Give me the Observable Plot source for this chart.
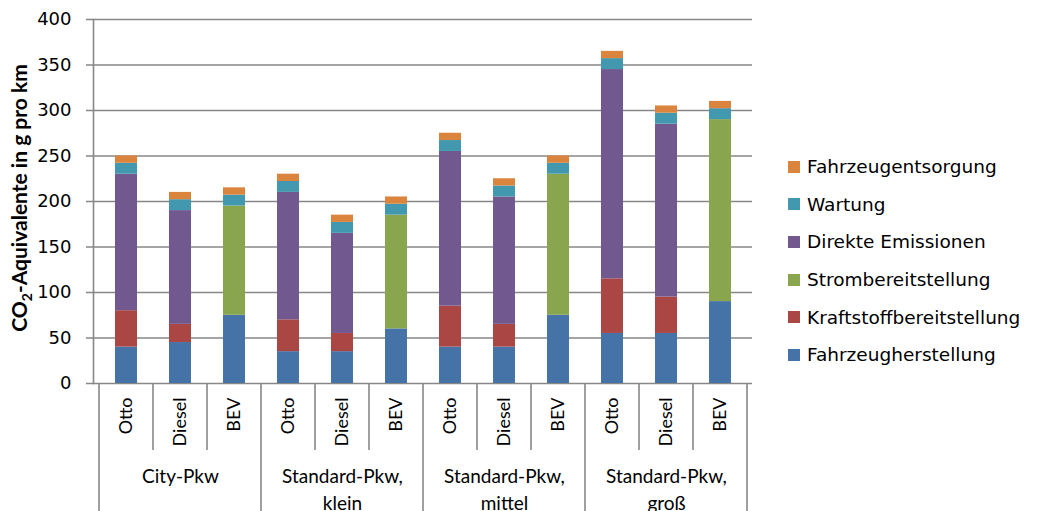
<!DOCTYPE html>
<html><head><meta charset="utf-8">
<script src="https://cdn.jsdelivr.net/npm/d3@7"></script>
<script src="https://cdn.jsdelivr.net/npm/@observablehq/plot@0.6"></script>
<style>
body{margin:0;background:#fff;}
#wrap{position:relative;width:1040px;height:511px;overflow:hidden;}
#legend{position:absolute;left:788px;top:148px;font-family:"DejaVu Sans",sans-serif;font-size:18.5px;color:#000;}
#legend .row{height:37.6px;display:flex;align-items:center;white-space:nowrap;}
#legend .sw{width:12px;height:12px;margin-right:7px;flex:none;}
</style></head><body><div id="wrap"><div id="legend"></div></div>
<script>
const groups = ["City-Pkw", "Standard-Pkw,\nklein", "Standard-Pkw,\nmittel", "Standard-Pkw,\ngroß"];
const fuels = ["Otto", "Diesel", "BEV"];
const components = ["Fahrzeugherstellung", "Kraftstoffbereitstellung", "Strombereitstellung", "Direkte Emissionen", "Wartung", "Fahrzeugentsorgung"];
const colors = ["#4572A7", "#AA4643", "#89A54E", "#71588F", "#4198AF", "#DB843D"];
// values per bar, order: City(Otto,Diesel,BEV), klein(...), mittel(...), groß(...)
const fahrzeugherstellung      = [40, 45, 75, 35, 35, 60, 40, 40, 75, 55, 55, 90];
const kraftstoffbereitstellung = [40, 20,  0, 35, 20,  0, 45, 25,  0, 60, 40,  0];
const strombereitstellung      = [ 0,  0,120,  0,  0,125,  0,  0,155,  0,  0,200];
const direkteEmissionen        = [150,125, 0,140,110,  0,170,140,  0,230,190,  0];
const wartung                  = [12, 12, 12, 12, 12, 12, 12, 12, 12, 12, 12, 12];
const fahrzeugentsorgung       = [ 8,  8,  8,  8,  8,  8,  8,  8,  8,  8,  8,  8];
const yTicks = [0, 50, 100, 150, 200, 250, 300, 350, 400];
const yLabel = ["CO", "2", "-Aquivalente in g pro km"];

const series = [fahrzeugherstellung, kraftstoffbereitstellung, strombereitstellung, direkteEmissionen, wartung, fahrzeugentsorgung];
const keys = [];
groups.forEach(g => fuels.forEach(f => keys.push(g + "|" + f)));
const rows = [];
keys.forEach((k, i) => components.forEach((c, j) => {
  if (series[j][i] > 0) rows.push({key: k, component: c, value: series[j][i]});
}));

const gray = "#878787";
const chart = Plot.plot({
  width: 1040, height: 511,
  marginLeft: 93, marginRight: 288, marginTop: 19, marginBottom: 128,
  style: {fontFamily: "DejaVu Sans", fontSize: "18px", color: "#000", background: "transparent"},
  x: {domain: keys, paddingInner: 0.6, paddingOuter: 0.3, axis: null},
  y: {domain: [0, 400], axis: null},
  color: {domain: components, range: colors},
  marks: [
    Plot.ruleY(yTicks, {stroke: gray, strokeWidth: 1.6, insetLeft: -7}),
    Plot.frame({anchor: "left", stroke: gray, strokeWidth: 1.6}),
    Plot.barY(rows, {x: "key", y: "value", fill: "component"}),
    Plot.axisY(yTicks, {tickSize: 0, tickPadding: 22, fontFamily: "DejaVu Sans", fontSize: 18, label: null}),
    Plot.axisX({tickSize: 0, tickPadding: 14, tickRotate: -90, tickFormat: d => d.split("|")[1], fontFamily: "Lato", fontSize: 18, label: null}),
    Plot.text(groups, {x: g => g + "|Diesel", frameAnchor: "bottom", dy: 81, lineAnchor: "top", lineHeight: 1.4, text: d => d, fontFamily: "Lato", fontSize: 19, fill: "#000"})
  ]
});
document.getElementById("wrap").prepend(chart);
chart.style.position = "absolute"; chart.style.left = "0"; chart.style.top = "0";

// separators below the axis, from the x band scale
const xs = chart.scale("x");
const half = (xs.step - xs.bandwidth) / 2;
const y0 = chart.scale("y").apply(0);
const svg = d3.select(chart);
const sep = svg.append("g").attr("stroke", gray).attr("stroke-width", 1.6);
keys.forEach((k, i) => {
  const xl = xs.apply(k) - half;
  const major = i % fuels.length === 0;
  sep.append("line").attr("x1", xl).attr("x2", xl).attr("y1", y0).attr("y2", major ? 511 : y0 + 67);
});
const xr = xs.apply(keys[keys.length - 1]) + xs.bandwidth + half;
sep.append("line").attr("x1", xr).attr("x2", xr).attr("y1", y0).attr("y2", 511);

// y label with subscript
const yl = svg.append("text")
  .attr("transform", "translate(27,198) rotate(-90)")
  .attr("text-anchor", "middle")
  .attr("font-family", "Lato").attr("font-weight", "bold").attr("font-size", 21).attr("fill", "#000");
yl.append("tspan").text(yLabel[0]);
yl.append("tspan").attr("font-size", 14).attr("dy", 5).text(yLabel[1]);
yl.append("tspan").attr("dy", -5).text(yLabel[2]);

// legend (top to bottom reversed stacking order)
const leg = d3.select("#legend");
components.slice().reverse().forEach(c => {
  const r = leg.append("div").attr("class", "row");
  r.append("div").attr("class", "sw").style("background", colors[components.indexOf(c)]);
  r.append("span").text(c);
});
</script></body></html>
